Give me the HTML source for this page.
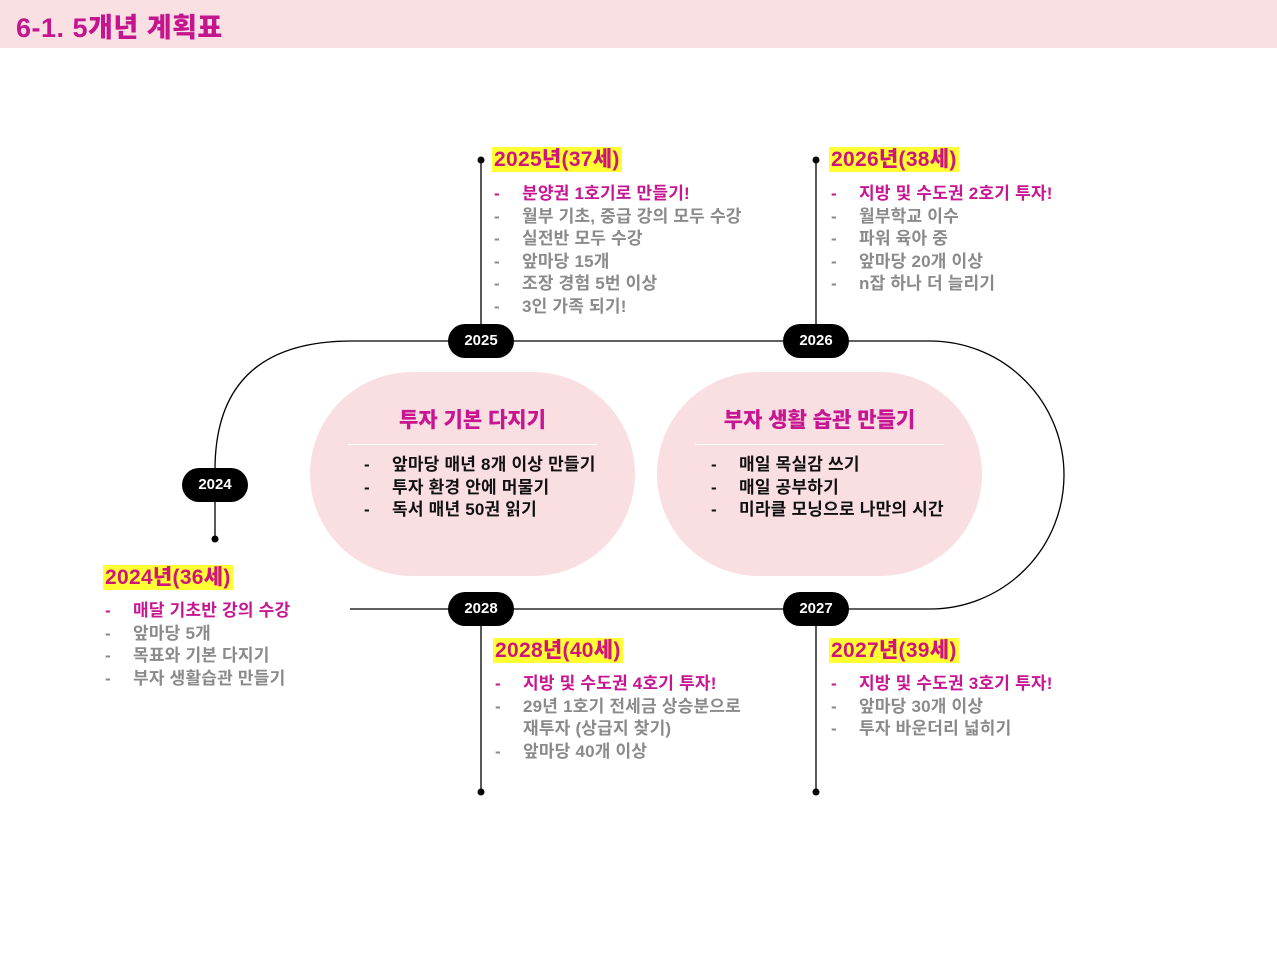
<!DOCTYPE html>
<html><head><meta charset="utf-8"><style>
body{margin:0;width:1277px;height:958px;background:#fff;position:relative;overflow:hidden;font-family:"Liberation Sans","Noto Sans CJK KR",sans-serif}
.hdr{position:absolute;left:0;top:0;width:1277px;height:48px;background:#fadfe3}
.hdr span{position:absolute;left:16px;top:6px;font-size:27px;font-weight:900;color:#c4158f;letter-spacing:0.5px}
.pill{position:absolute;width:66px;height:34px;border-radius:17px;background:#000;color:#fff;font-weight:bold;font-size:15px;text-align:center;line-height:34px}
.h{position:absolute;font-size:21px;font-weight:900;color:#d0157a;background:#ffff33;padding:0 2px;line-height:25px;letter-spacing:0.3px}
.list{position:absolute;font-size:17px;font-weight:bold;color:#8a8a8a;line-height:22.5px;letter-spacing:0.2px}
.list div{position:relative;padding-left:30px}
.list div:before{content:"-";position:absolute;left:2px}
.list .p{color:#c81592}
.box{position:absolute;width:325px;height:204px;top:372px;border-radius:102px;background:#f9dfe2}
.box .t{position:absolute;left:38px;right:38px;top:32px;text-align:center;font-size:21px;font-weight:900;color:#c81592;padding-bottom:10px;border-bottom:1px solid #fff}
.box .l{position:absolute;left:52px;top:82px;font-size:17px;font-weight:bold;color:#111;line-height:22.5px;letter-spacing:0.2px}
.box .l div{position:relative;padding-left:30px}
.box .l div:before{content:"-";position:absolute;left:2px}
</style></head><body>
<div class="hdr"><span>6-1. 5개년 계획표</span></div>
<svg width="1277" height="958" style="position:absolute;left:0;top:0">
<g stroke="#000" stroke-width="1.3" fill="none">
<path d="M215 538 L215 470 Q215 341 352 341 L930 341 A134 134 0 0 1 930 609 L350 609"/>
<line x1="481" y1="160" x2="481" y2="341"/><line x1="816" y1="160" x2="816" y2="341"/>
<line x1="481" y1="609" x2="481" y2="792"/><line x1="816" y1="609" x2="816" y2="792"/>
</g>
<g fill="#000"><circle cx="481" cy="160" r="3.5"/><circle cx="816" cy="160" r="3.5"/><circle cx="481" cy="792" r="3.5"/><circle cx="816" cy="792" r="3.5"/><circle cx="215" cy="539" r="3.5"/></g>
</svg>
<div class="pill" style="left:448px;top:324px">2025</div>
<div class="pill" style="left:783px;top:324px">2026</div>
<div class="pill" style="left:182px;top:468px">2024</div>
<div class="pill" style="left:448px;top:592px">2028</div>
<div class="pill" style="left:783px;top:592px">2027</div>

<div class="h" style="left:492px;top:147px">2025년(37세)</div>
<div class="list" style="left:492px;top:183px"><div class="p">분양권 1호기로 만들기!</div><div>월부 기초, 중급 강의 모두 수강</div><div>실전반 모두 수강</div><div>앞마당 15개</div><div>조장 경험 5번 이상</div><div>3인 가족 되기!</div></div>

<div class="h" style="left:829px;top:147px">2026년(38세)</div>
<div class="list" style="left:829px;top:183px"><div class="p">지방 및 수도권 2호기 투자!</div><div>월부학교 이수</div><div>파워 육아 중</div><div>앞마당 20개 이상</div><div>n잡 하나 더 늘리기</div></div>

<div class="h" style="left:103px;top:565px">2024년(36세)</div>
<div class="list" style="left:103px;top:600px"><div class="p">매달 기초반 강의 수강</div><div>앞마당 5개</div><div>목표와 기본 다지기</div><div>부자 생활습관 만들기</div></div>

<div class="h" style="left:493px;top:638px">2028년(40세)</div>
<div class="list" style="left:493px;top:673px"><div class="p">지방 및 수도권 4호기 투자!</div><div>29년 1호기 전세금 상승분으로<br>재투자 (상급지 찾기)</div><div>앞마당 40개 이상</div></div>

<div class="h" style="left:829px;top:638px">2027년(39세)</div>
<div class="list" style="left:829px;top:673px"><div class="p">지방 및 수도권 3호기 투자!</div><div>앞마당 30개 이상</div><div>투자 바운더리 넓히기</div></div>

<div class="box" style="left:310px"><div class="t">투자 기본 다지기</div><div class="l"><div>앞마당 매년 8개 이상 만들기</div><div>투자 환경 안에 머물기</div><div>독서 매년 50권 읽기</div></div></div>
<div class="box" style="left:657px"><div class="t">부자 생활 습관 만들기</div><div class="l"><div>매일 목실감 쓰기</div><div>매일 공부하기</div><div>미라클 모닝으로 나만의 시간</div></div></div>
</body></html>
